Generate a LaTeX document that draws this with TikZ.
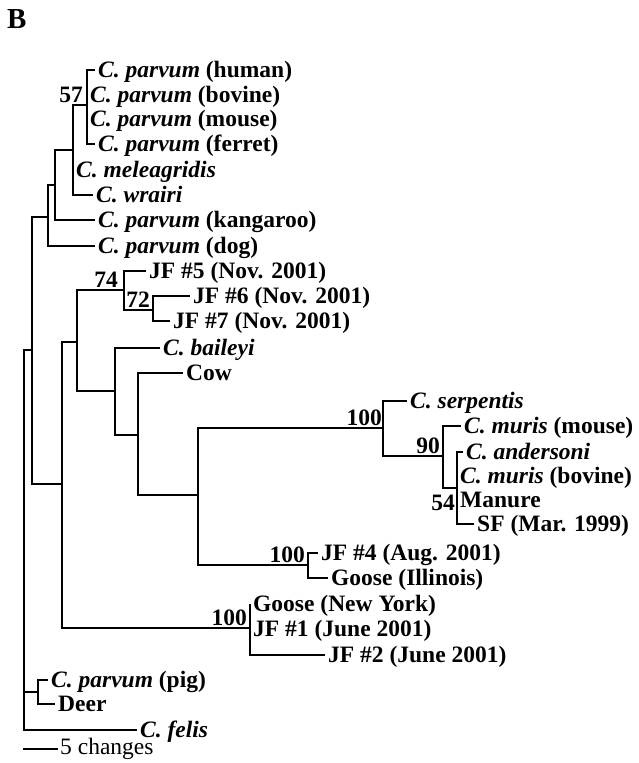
\documentclass[tikz,border=0pt]{standalone}
\usepackage{fontspec}
\setmainfont{Liberation Serif}
\begin{document}
\begin{tikzpicture}[x=1pt,y=-1pt,
  br/.style={line width=1.7pt},
  leaf/.style={anchor=west,inner xsep=3pt,inner ysep=0pt,text height=15.5pt,text depth=0pt,
    font=\fontsize{23.5}{25}\selectfont\bfseries},
  sup/.style={anchor=base east,inner sep=0pt,font=\fontsize{23.5}{25}\selectfont\bfseries},
  scaletext/.style={anchor=west,inner xsep=2pt,inner ysep=0pt,text height=11pt,text depth=0pt,
    font=\fontsize{23.5}{25}\selectfont}]
\useasboundingbox (0,0) rectangle (638,763);
\node[anchor=north west,inner sep=0pt,font=\fontsize{29}{32}\selectfont\bfseries] (panel) at (7,9) {B};
% internal nodes
\coordinate (R) at (24,540);
\coordinate (A) at (32,350);
\coordinate (U) at (48,217);
\coordinate (V) at (55,185);
\coordinate (W) at (73,150);
\coordinate (N57) at (87,105);
\coordinate (L) at (62,484);
\coordinate (M) at (77,342);
\coordinate (J74) at (124,290);
\coordinate (J72) at (153,310);
\coordinate (B1) at (115,391);
\coordinate (C1) at (138,435);
\coordinate (D1) at (198,495);
\coordinate (S100) at (383,428);
\coordinate (N90) at (443,456);
\coordinate (N54) at (457,488);
\coordinate (J4) at (308,565);
\coordinate (G1) at (250,628);
\coordinate (PD) at (38,692);
% leaves
\node[leaf] (human) at (95,70) {\textit{C. parvum} (human)};
\node[leaf] (bovine) at (87,95) {\textit{C. parvum} (bovine)};
\node[leaf] (mouse) at (87,119) {\textit{C. parvum} (mouse)};
\node[leaf] (ferret) at (95,144) {\textit{C. parvum} (ferret)};
\node[leaf] (mel) at (73,170) {\textit{C. meleagridis}};
\node[leaf] (wrairi) at (93,195) {\textit{C. wrairi}};
\node[leaf] (kang) at (95,220) {\textit{C. parvum} (kangaroo)};
\node[leaf] (dog) at (95,246) {\textit{C. parvum} (dog)};
\node[leaf] (jf5) at (146,271) {JF \#5 (Nov. 2001)};
\node[leaf] (jf6) at (190,296) {JF \#6 (Nov. 2001)};
\node[leaf] (jf7) at (170,321) {JF \#7 (Nov. 2001)};
\node[leaf] (bail) at (160,348) {\textit{C. baileyi}};
\node[leaf] (cow) at (183,373) {Cow};
\node[leaf] (serp) at (407,401) {\textit{C. serpentis}};
\node[leaf] (mmouse) at (461,426) {\textit{C. muris} (mouse)};
\node[leaf] (ander) at (463,452) {\textit{C. andersoni}};
\node[leaf] (mbov) at (457,476) {\textit{C. muris} (bovine)};
\node[leaf] (manure) at (457,500) {Manure};
\node[leaf] (sf) at (474,524) {SF (Mar. 1999)};
\node[leaf] (jf4) at (318,553) {JF \#4 (Aug. 2001)};
\node[leaf] (gil) at (328,578) {Goose (Illinois)};
\node[leaf] (gny) at (250,604) {Goose (New York)};
\node[leaf] (jf1) at (250,629) {JF \#1 (June 2001)};
\node[leaf] (jf2) at (325,655) {JF \#2 (June 2001)};
\node[leaf] (pig) at (48,680) {\textit{C. parvum} (pig)};
\node[leaf] (deer) at (55,704) {Deer};
\node[leaf] (felis) at (137,730) {\textit{C. felis}};
% branches
\draw[br] (R) |- (A);
\draw[br] (R) |- (PD);
\draw[br] (R) |- (felis.west);
\draw[br] (A) |- (U);
\draw[br] (A) |- (L);
\draw[br] (U) |- (V);
\draw[br] (U) |- (dog.west);
\draw[br] (V) |- (W);
\draw[br] (V) |- (kang.west);
\draw[br] (W) |- (N57);
\draw[br] (W) |- (mel.west);
\draw[br] (W) |- (wrairi.west);
\draw[br] (N57) |- (human.west);
\draw[br] (N57) |- (bovine.west);
\draw[br] (N57) |- (mouse.west);
\draw[br] (N57) |- (ferret.west);
\draw[br] (L) |- (M);
\draw[br] (L) |- (G1);
\draw[br] (M) |- (J74);
\draw[br] (M) |- (B1);
\draw[br] (J74) |- (jf5.west);
\draw[br] (J74) |- (J72);
\draw[br] (J72) |- (jf6.west);
\draw[br] (J72) |- (jf7.west);
\draw[br] (B1) |- (bail.west);
\draw[br] (B1) |- (C1);
\draw[br] (C1) |- (cow.west);
\draw[br] (C1) |- (D1);
\draw[br] (D1) |- (S100);
\draw[br] (D1) |- (J4);
\draw[br] (S100) |- (serp.west);
\draw[br] (S100) |- (N90);
\draw[br] (N90) |- (mmouse.west);
\draw[br] (N90) |- (N54);
\draw[br] (N54) |- (ander.west);
\draw[br] (N54) |- (mbov.west);
\draw[br] (N54) |- (manure.west);
\draw[br] (N54) |- (sf.west);
\draw[br] (J4) |- (jf4.west);
\draw[br] (J4) |- (gil.west);
\draw[br] (G1) |- (gny.west);
\draw[br] (G1) |- (jf1.west);
\draw[br] (G1) |- (jf2.west);
\draw[br] (PD) |- (pig.west);
\draw[br] (PD) |- (deer.west);
% support values
\node[sup] (s57) at ([xshift=-4pt,yshift=2.5pt]N57) {57};
\node[sup] (s74) at ([xshift=-6pt,yshift=2.5pt]J74) {74};
\node[sup] (s72) at ([xshift=-3pt,yshift=2.5pt]J72) {72};
\node[sup] (s100a) at ([xshift=-1pt,yshift=2.5pt]S100) {100};
\node[sup] (s90) at ([xshift=-3pt,yshift=2.5pt]N90) {90};
\node[sup] (s54) at ([xshift=-2pt,yshift=-22pt]N54) {54};
\node[sup] (s100b) at ([xshift=-3pt,yshift=2.5pt]J4) {100};
\node[sup] (s100c) at ([xshift=-3pt,yshift=2.5pt]G1) {100};
% scale bar
\coordinate (sb1) at (23,749);
\coordinate (sb2) at (58,749);
\draw[line width=1.2pt] (sb1) -- (sb2);
\node[scaletext] (sbl) at (sb2) {5 changes};
\end{tikzpicture}
\end{document}
